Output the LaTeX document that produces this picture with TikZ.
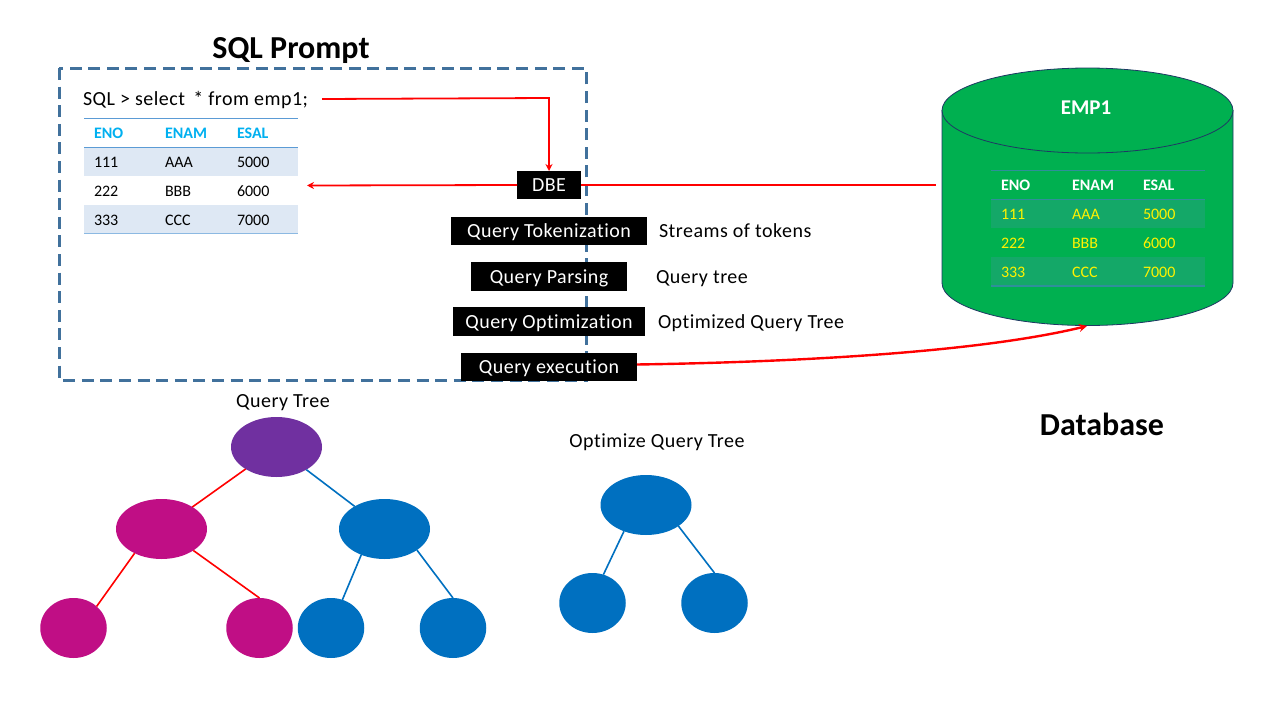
\documentclass[tikz,border=0pt]{standalone}
\usepackage{fontspec}
\setmainfont{Carlito}
\newfontfamily\bodyf[LetterSpace=2.5,Ligatures=NoCommon]{Carlito}
\usetikzlibrary{shapes.geometric,arrows.meta}
\definecolor{dashblue}{HTML}{41719C}
\definecolor{cgreen}{HTML}{00B050}
\definecolor{cnavy}{HTML}{1F3864}
\definecolor{tblue}{HTML}{0070C0}
\definecolor{tpurple}{HTML}{7030A0}
\definecolor{tmag}{HTML}{C00E85}
\definecolor{cyanhead}{HTML}{00B0F0}
\definecolor{rowblue}{HTML}{DEE8F4}
\definecolor{ruleblue}{HTML}{5B9BD5}
\definecolor{rowgreen}{HTML}{14A868}
\definecolor{rulegreen}{HTML}{2F8F9A}
\tikzset{
  x=1pt,y=-1pt,
  every node/.style={inner sep=0pt,outer sep=0pt},
  blackbox/.style={fill=black,text=white,font=\bodyf\fontsize{20}{22}\selectfont,anchor=center,text height=15pt,text depth=2pt},
  lbl/.style={font=\bodyf\fontsize{20}{22}\selectfont,text=black},
  cell/.style={font=\fontsize{16}{17}\selectfont,anchor=base west},
  bigt/.style={font=\bfseries\fontsize{32}{34}\selectfont,text=black},
  bignode/.style={ellipse,minimum width=91pt,minimum height=60pt},
  leaf/.style={ellipse,minimum width=66.5pt,minimum height=60pt},
  redline/.style={draw=red,line width=1.8pt},
  redarrow/.style={redline,-{Stealth[length=7pt,width=7pt]}},
  bluelink/.style={draw=tblue,line width=1.6pt},
  redlink/.style={draw=red,line width=1.6pt},
}
\begin{document}
\begin{tikzpicture}
\useasboundingbox (0,0) rectangle (1280,720);
\fill[white] (0,0) rectangle (1280,720);
% dashed prompt frame
\draw[dashblue,line width=3pt,dash pattern=on 12pt off 6.6pt] (59,68) rectangle (586,380);
\node[bigt,anchor=base] (title) at (291,58) {SQL Prompt};
\node[lbl,anchor=base west] (sql) at (83,105) {SQL > select\, * from emp1;};
% table 1
\fill[rowblue] (84,147) rectangle (298,175.7);
\fill[rowblue] (84,205) rectangle (298,233);
\draw[ruleblue,line width=0.8pt] (84,118.7) -- (298,118.7);
\draw[ruleblue,line width=0.8pt] (84,147) -- (298,147);
\draw[ruleblue!70,line width=1.6pt] (84,233.5) -- (298,233.5);
\foreach \t/\x/\n in {ENO/94/a,ENAM/165/b,ESAL/237/c}
  \node[cell,text=cyanhead,font=\bfseries\fontsize{16}{17}\selectfont] (h\n) at (\x,138) {\t};
\foreach \t/\x/\y/\n in {111/94/167/a1,AAA/165/167/b1,5000/237/167/c1,222/94/196/a2,BBB/165/196/b2,6000/237/196/c2,333/94/225/a3,CCC/165/225/b3,7000/237/225/c3}
  \node[cell,text=black] (t\n) at (\x,\y) {\t};
% cylinder
\draw[cnavy,line width=0.8pt,fill=cgreen] (942,110) -- (942,283) arc[start angle=180,end angle=360,x radius=145.5,y radius=-42.5] -- (1233,110);
\draw[cnavy,line width=0.8pt,fill=cgreen] (1087.5,110.5) ellipse[x radius=145.5,y radius=42.5];
\coordinate (dbwest) at (936,185);
\coordinate (dbbottom) at (1087,326);
\node[font=\bfseries\fontsize{21}{23}\selectfont,text=white,anchor=base] (emp) at (1086,114) {EMP1};
% table 2
\fill[rowgreen] (991,199.3) rectangle (1205,227.7);
\fill[rowgreen] (991,256.7) rectangle (1205,285.7);
\draw[rulegreen,line width=0.8pt] (991,170.3) -- (1205,170.3);
\draw[rulegreen,line width=0.8pt] (991,199.3) -- (1205,199.3);
\draw[rulegreen,line width=1.6pt] (991,286) -- (1205,286);
\foreach \t/\x/\n in {ENO/1001/a,ENAM/1072/b,ESAL/1143/c}
  \node[cell,text=white,font=\bfseries\fontsize{16}{17}\selectfont] (g\n) at (\x,190) {\t};
\foreach \t/\x/\y/\n in {111/1001/219/a1,AAA/1072/219/b1,5000/1143/219/c1,222/1001/248/a2,BBB/1072/248/b2,6000/1143/248/c2,333/1001/277/a3,CCC/1072/277/b3,7000/1143/277/c3}
  \node[cell,text=yellow] (u\n) at (\x,\y) {\t};
% black boxes
\node[blackbox,minimum width=64pt,minimum height=28pt] (dbe) at (549,185) {DBE};
\node[blackbox,minimum width=196pt,minimum height=28pt] (tok) at (549,231) {Query Tokenization};
\node[blackbox,minimum width=156pt,minimum height=29pt] (par) at (549,276.5) {Query Parsing};
\node[blackbox,minimum width=192pt,minimum height=29pt] (opt) at (549,321.5) {Query Optimization};
\node[blackbox,minimum width=176pt,minimum height=28pt] (exe) at (549,367) {Query execution};
\node[lbl,anchor=base west] (l1) at (659,237) {Streams of tokens};
\node[lbl,anchor=base west] (l2) at (656,283) {Query tree};
\node[lbl,anchor=base west] (l3) at (658,328) {Optimized Query Tree};
% red connectors
\coordinate (sqlend) at (322,99);
\coordinate (tblend) at (307,185.5);
\coordinate (exeout) at (637,364.5);
\draw[redarrow] (sqlend) -- (549,98) -- (dbe.north);
\draw[redarrow] (dbe.west) -- (tblend);
\draw[redline] (dbe.east) -- (dbwest);
\draw[draw=red,line width=2.4pt,-{Stealth[length=8pt,width=8pt]}] (exeout) .. controls (800,362) and (980,352) .. (dbbottom);
\node[bigt,anchor=base] (dbl) at (1102,435) {Database};
% trees
\node[lbl,anchor=base] (qt) at (283,407) {Query Tree};
\node[lbl,anchor=base] (oqt) at (657,447) {Optimize Query Tree};
\node[bignode,fill=tpurple] (r) at (276.5,447) {};
\node[bignode,fill=tmag] (m) at (161.5,529) {};
\node[bignode,fill=tblue] (b) at (384.5,529) {};
\node[leaf,fill=tmag] (m1) at (73.5,628) {};
\node[leaf,fill=tmag] (m2) at (259.5,628) {};
\node[leaf,fill=tblue] (b1) at (331,628) {};
\node[leaf,fill=tblue] (b2) at (453,628) {};
\draw[redlink] (r) -- (m);
\draw[bluelink] (r) -- (b);
\draw[redlink] (m.-138) -- (m1.43);
\draw[redlink] (m.-34) -- (m2.north);
\draw[bluelink] (b.-132) -- (b1.68);
\draw[bluelink] (b.-33) -- (b2.north);
\node[bignode,fill=tblue] (o) at (646,505) {};
\node[leaf,fill=tblue] (o1) at (592.5,603) {};
\node[leaf,fill=tblue] (o2) at (714.5,603) {};
\draw[bluelink] (o.-130) -- (o1.69);
\draw[bluelink] (o.-33) -- (o2.north);
\end{tikzpicture}
\end{document}
